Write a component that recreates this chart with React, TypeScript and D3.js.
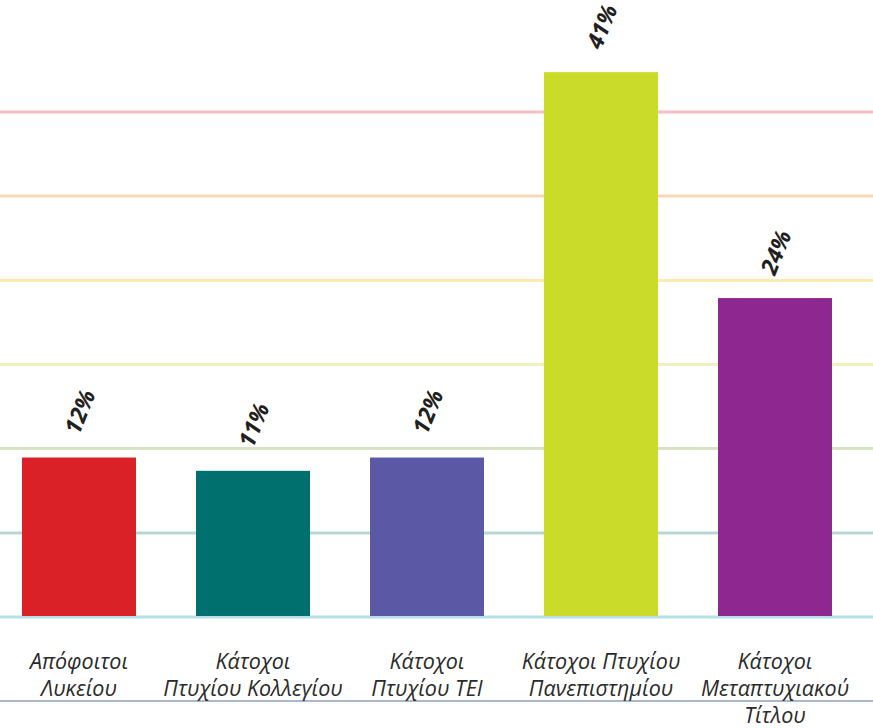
import React, { useEffect, useRef } from 'react';
import * as d3 from 'd3';

const categories: string[][] = [
  ['Απόφοιτοι', 'Λυκείου'],
  ['Κάτοχοι', 'Πτυχίου Κολλεγίου'],
  ['Κάτοχοι', 'Πτυχίου ΤΕΙ'],
  ['Κάτοχοι Πτυχίου', 'Πανεπιστημίου'],
  ['Κάτοχοι', 'Μεταπτυχιακού', 'Τίτλου'],
];
const values = [12, 11, 12, 41, 24];
const barColors = ['#da2128', '#00706e', '#5b59a6', '#cbdb2a', '#8e278f'];
const gridValues = [0, 6.33, 12.67, 19, 25.33, 31.67, 38];
const gridColors = ['#b6dfe8', '#b5d7d6', '#d7e4c3', '#eff2c0', '#fdebb0', '#fbd5b5', '#f4bfc3'];

function App() {
  const ref = useRef<SVGSVGElement | null>(null);

  useEffect(() => {
    document.body.style.margin = '0';
    const width = 873;
    const height = 728;
    const svg = d3.select(ref.current);
    svg.selectAll('*').remove();
    svg.attr('width', width).attr('height', height);

    const idx = values.map((_, i) => String(i));
    const x = d3.scaleBand()
      .domain(idx)
      .range([-8, 862])
      .paddingInner(60 / 174)
      .paddingOuter(30 / 174);

    const y = d3.scaleLinear().domain([0, 38]).range([617, 112]);

    // grid lines
    svg.append('g')
      .selectAll('line')
      .data(gridValues)
      .enter()
      .append('line')
      .attr('x1', 0)
      .attr('x2', width)
      .attr('y1', (d) => y(d))
      .attr('y2', (d) => y(d))
      .attr('stroke', (d, i) => gridColors[i])
      .attr('stroke-width', 3);

    // bottom axis line under labels
    svg.append('line')
      .attr('x1', 0)
      .attr('x2', width)
      .attr('y1', 701)
      .attr('y2', 701)
      .attr('stroke', '#a9b8cf')
      .attr('stroke-width', 2);

    // bars
    svg.append('g')
      .selectAll('rect')
      .data(values)
      .enter()
      .append('rect')
      .attr('x', (d, i) => x(String(i)) as number)
      .attr('y', (d) => y(d))
      .attr('width', x.bandwidth())
      .attr('height', (d) => y(0) - y(d) - 1)
      .attr('fill', (d, i) => barColors[i]);

    // value labels
    svg.append('g')
      .selectAll('text')
      .data(values)
      .enter()
      .append('text')
      .attr('transform', (d, i) => {
        const cx = (x(String(i)) as number) + x.bandwidth() / 2;
        return `translate(${cx},${y(d) - 46}) rotate(-68)`;
      })
      .attr('text-anchor', 'middle')
      .attr('dominant-baseline', 'central')
      .attr('font-family', '"Open Sans", Lato, sans-serif')
      .attr('font-style', 'italic')
      .attr('font-weight', 'bold')
      .attr('font-size', 23)
      .attr('fill', '#231f20')
      .text((d) => `${d}%`);

    // category labels
    const labels = svg.append('g')
      .selectAll('text')
      .data(categories)
      .enter()
      .append('text')
      .attr('text-anchor', 'middle')
      .attr('font-family', '"Open Sans", Lato, sans-serif')
      .attr('font-style', 'italic')
      .attr('font-weight', 400)
      .attr('font-size', 21.5)
      .attr('fill', '#2b2b2b');

    labels.each(function (lines, i) {
      const cx = (x(String(i)) as number) + x.bandwidth() / 2;
      d3.select(this)
        .selectAll('tspan')
        .data(lines)
        .enter()
        .append('tspan')
        .attr('x', cx)
        .attr('y', (d, j) => 669 + j * 27)
        .text((d) => d);
    });
  }, []);

  return <svg ref={ref} style={{ display: 'block' }} />;
}

export default App;
